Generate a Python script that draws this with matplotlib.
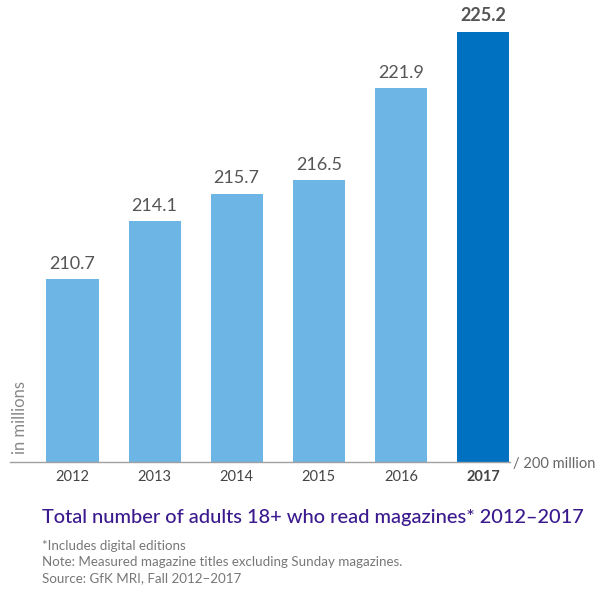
import matplotlib
matplotlib.use("Agg")
import matplotlib.pyplot as plt

years = ["2012", "2013", "2014", "2015", "2016", "2017"]
values = [210.7, 214.1, 215.7, 216.5, 221.9, 225.2]
colors = ["#6db5e5"] * 5 + ["#0070c0"]

plt.rcParams['font.family'] = ['Lato', 'DejaVu Sans']

W, H = 611, 590
fig = plt.figure(figsize=(W / 100, H / 100), dpi=100)

base_px = 462
top_px = 10
left_px, right_px = 10, 510
ax = fig.add_axes([left_px / W, (H - base_px) / H, (right_px - left_px) / W, (base_px - top_px) / H])

pxu = (462 - 32) / 25.2
ax.set_ylim(200, 200 + (base_px - top_px) / pxu)
spacing = 82.1
ax.set_xlim((left_px - 72.5) / spacing, (right_px - 72.5) / spacing)

x = list(range(len(years)))
ax.bar(x, [v - 200 for v in values], bottom=200, width=0.635, color=colors, linewidth=0)

for i, v in enumerate(values):
    ax.text(i, v + 0.45, f"{v:.1f}", ha="center", va="bottom", fontsize=13,
            color="#555555", fontweight="bold" if i == len(values) - 1 else "normal")

for s in ["top", "right", "left"]:
    ax.spines[s].set_visible(False)
ax.spines["bottom"].set_color("#a0a0a0")
ax.spines["bottom"].set_linewidth(1.0)
ax.set_yticks([])
ax.set_xticks(x)
ax.set_xticklabels(years, fontsize=10.5, color="#444444")
ax.tick_params(axis="x", length=0, pad=6)
ax.get_xticklabels()[-1].set_fontweight("bold")

fig.text(20 / W, 1 - 417 / H, "in millions", rotation=90, ha="center", va="center",
         fontsize=12, color="#888888")
fig.text(513 / W, 1 - 464 / H, "/ 200 million", ha="left", va="center",
         fontsize=10.5, color="#666666")

fig.text(42 / W, 1 - 518 / H, "Total number of adults 18+ who read magazines* 2012\u20132017",
         ha="left", va="center", fontsize=14.4, color="#3b1a8e", fontweight="medium")
notes = ["*Includes digital editions",
         "Note: Measured magazine titles excluding Sunday magazines.",
         "Source: GfK MRI, Fall 2012\u20132017"]
for j, n in enumerate(notes):
    fig.text(42 / W, 1 - (546 + 16 * j) / H, n, ha="left", va="center",
             fontsize=9.6, color="#777777")

fig.savefig("out.png", dpi=100)
